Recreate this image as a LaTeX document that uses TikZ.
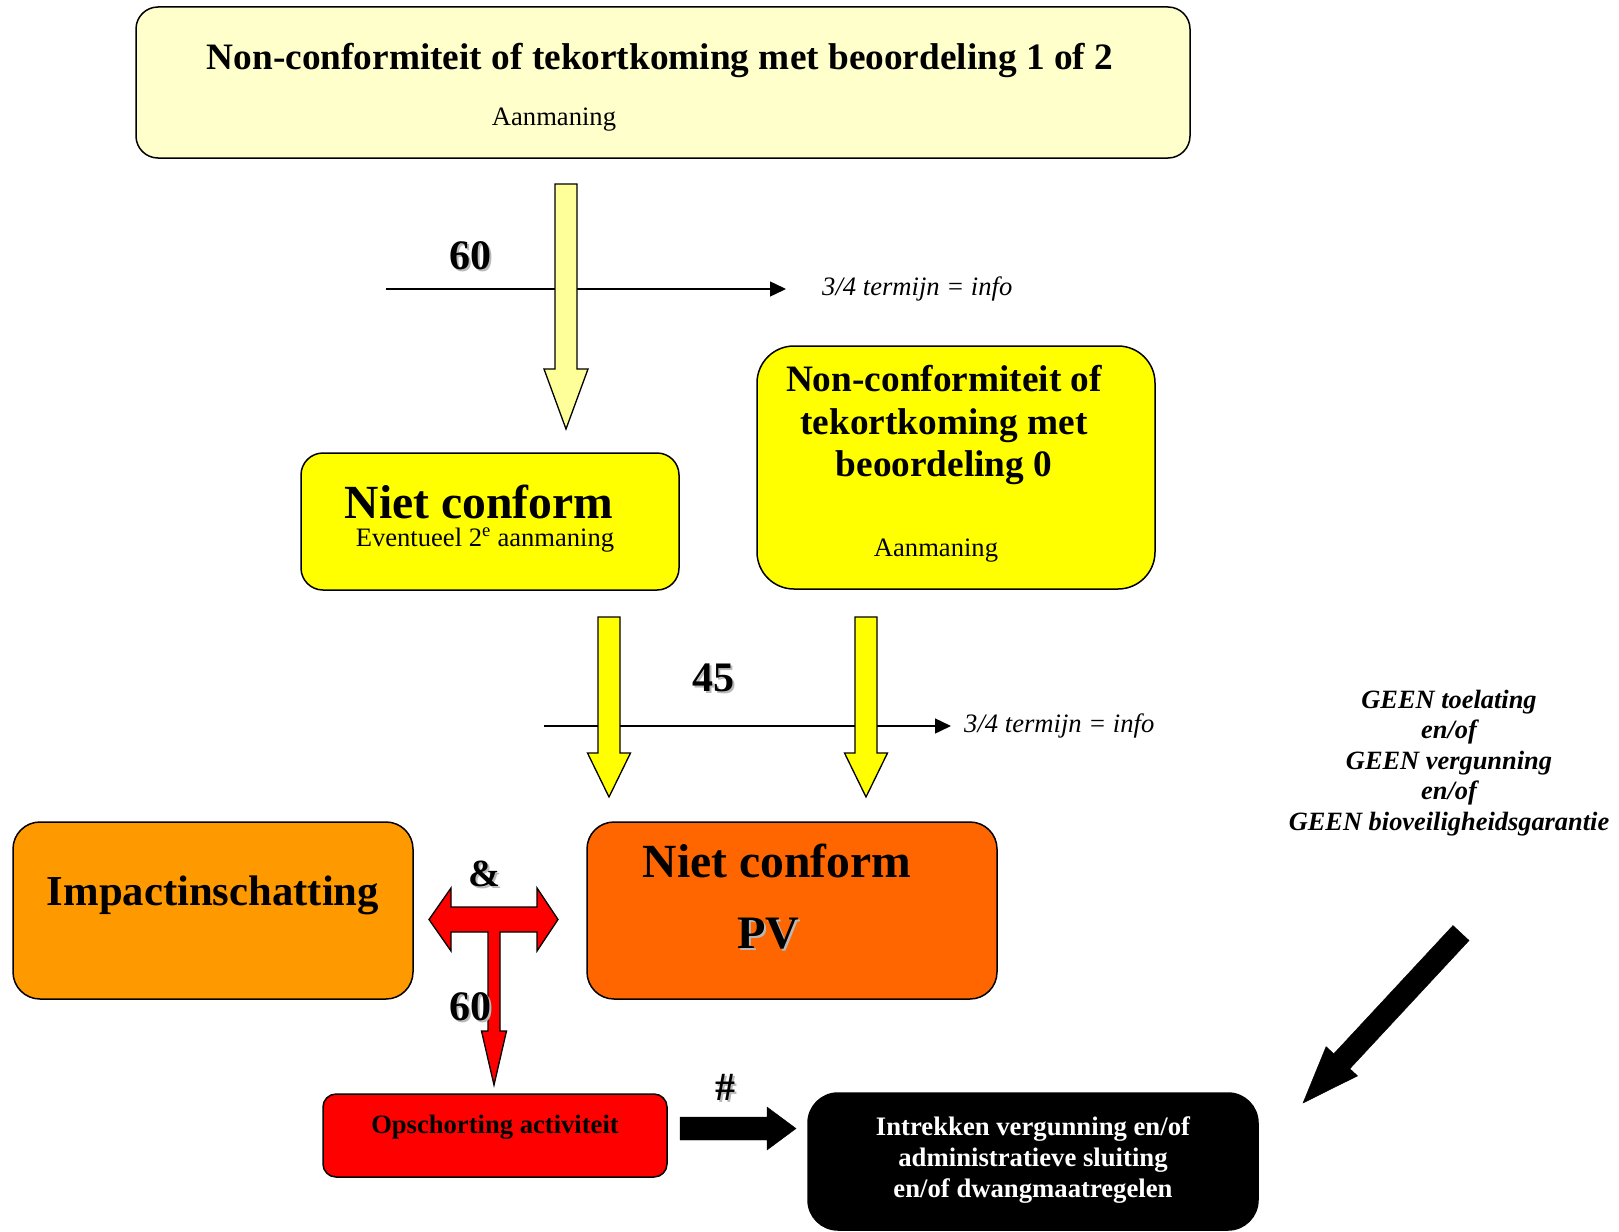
\documentclass[tikz,border=0pt]{standalone}
\usepackage{fontspec}
\setmainfont{Liberation Serif}
\usetikzlibrary{positioning, calc, arrows.meta}

\definecolor{paleyellow}{HTML}{FFFFCC}
\definecolor{arrowyellow}{HTML}{FFFF99}
\definecolor{brightyellow}{HTML}{FFFF00}
\definecolor{amber}{HTML}{FF9900}
\definecolor{pvorange}{HTML}{FF6600}
\definecolor{signalred}{HTML}{FF0000}

% block arrow: [style]{from}{to}{half shaft}{half head}{head length}
\newcommand{\blockarrow}[6][]{%
    \coordinate (ba) at ($(#3)!#6!(#2)$);
    \draw[#1] ($(#2)!#4!90:(#3)$) -- ($(ba)!#4!90:(#3)$) -- ($(ba)!#5!90:(#3)$)
        -- (#3) -- ($(ba)!#5!-90:(#3)$) -- ($(ba)!#4!-90:(#3)$)
        -- ($(#2)!#4!-90:(#3)$) -- cycle;
}
\newcommand{\shd}[1]{\makebox[0pt][l]{\hspace{2pt}\raisebox{-2pt}{\textcolor{gray!55}{#1}}}#1}

\begin{document}
\begin{tikzpicture}[
    x=1pt, y=-1pt,
    box/.style={draw, line width=1.5pt, inner sep=0pt},
    txt/.style={inner sep=0pt, anchor=base, font=\fontsize{26.6}{31}\selectfont},
    head/.style={inner sep=0pt, anchor=base, font=\bfseries\fontsize{37.3}{42.5}\selectfont},
    huge/.style={inner sep=0pt, anchor=base, font=\bfseries\fontsize{47.6}{52}\selectfont},
    num/.style={inner sep=0pt, anchor=base, font=\bfseries\fontsize{42}{46}\selectfont},
    info/.style={inner sep=0pt, anchor=west, font=\itshape\fontsize{26.6}{31}\selectfont},
    arrow/.style={-{Triangle[length=16pt, width=15pt]}, line width=1.4pt},
    blockline/.style={line width=1.3pt, line join=miter}
]
    \useasboundingbox (0,0) rectangle (1619,1231);

    % boxes
    \node[box, rounded corners=22pt, fill=paleyellow, minimum width=1054pt, minimum height=151pt] (top) at (663,82.5) {};
    \node[box, rounded corners=22pt, fill=brightyellow, minimum width=378pt, minimum height=137pt] (nc) at (490,521.5) {};
    \node[box, rounded corners=37pt, fill=brightyellow, minimum width=398pt, minimum height=243pt] (nc0) at (956,467.5) {};
    \node[box, rounded corners=27pt, fill=amber, minimum width=400pt, minimum height=177pt] (impact) at (213,910.5) {};
    \node[box, rounded corners=27pt, fill=pvorange, minimum width=410pt, minimum height=177pt] (pv) at (792,910.5) {};
    \node[box, rounded corners=13pt, fill=signalred, minimum width=344pt, minimum height=83pt] (susp) at (495,1135.5) {};
    \node[box, rounded corners=30pt, fill=black, minimum width=450pt, minimum height=137pt] (revoke) at (1033,1161.5) {};

    % texts
    \node[head] (top-t) at (660,70) {Non-conformiteit of tekortkoming met beoordeling 1 of 2};
    \node[txt] (top-s) at (554,125) {Aanmaning};
    \node[huge] (nc-t) at (479,518) {Niet conform};
    \node[txt] (nc-s) at (485,546) {Eventueel 2\textsuperscript{e} aanmaning};
    \node[head, anchor=center, align=center] (nc0-t) at (944,425) {Non-conformiteit of\\tekortkoming met\\beoordeling 0};
    \node[txt] (nc0-s) at (936,556) {Aanmaning};
    \node[txt, font=\bfseries\fontsize{42.7}{46}\selectfont] (impact-t) at (213,905) {Impactinschatting};
    \node[huge] (pv-t) at (777,877) {Niet conform};
    \node[huge, font=\bfseries\fontsize{46.5}{50}\selectfont] (pv-s) at (768,948) {\shd{PV}};
    \node[txt, font=\bfseries\fontsize{26.6}{31}\selectfont] (susp-t) at (495,1133) {Opschorting activiteit};
    \node[txt, anchor=center, align=center, text=white, font=\bfseries\fontsize{26.7}{31}\selectfont] (revoke-t) at (1033,1160)
        {Intrekken vergunning en/of\\administratieve sluiting\\en/of dwangmaatregelen};
    \node[txt, anchor=center, align=center, font=\bfseries\itshape\fontsize{26.4}{30.5}\selectfont] (geen) at (1449,763)
        {GEEN toelating\\en/of\\GEEN vergunning\\en/of\\GEEN bioveiligheidsgarantie};

    % term lines
    \coordinate (t1a) at (386,289);
    \coordinate (t1b) at (786,289);
    \coordinate (t2a) at (544,726);
    \coordinate (t2b) at (951,726);
    \draw[arrow] (t1a) -- (t1b);
    \draw[arrow] (t2a) -- (t2b);
    \node[info] (info1) at (822,289) {3/4 termijn = info};
    \node[info] (info2) at (964,726) {3/4 termijn = info};
    \node[num] (d60a) at (470,269) {\shd{60}};
    \node[num] (d45) at (713,691) {\shd{45}};

    % block arrows
    \coordinate (y1a) at (566,184);
    \coordinate (y1b) at (566,429);
    \coordinate (y2a) at (609,617);
    \coordinate (y2b) at (609,797);
    \coordinate (y3a) at (866,617);
    \coordinate (y3b) at (866,797);
    \blockarrow[blockline, fill=arrowyellow]{y1a}{y1b}{11pt}{22pt}{60pt}
    \blockarrow[blockline, fill=brightyellow]{y2a}{y2b}{11pt}{21.5pt}{44pt}
    \blockarrow[blockline, fill=brightyellow]{y3a}{y3b}{11pt}{21.5pt}{44pt}

    \coordinate (k1a) at (680,1128.5);
    \coordinate (k1b) at (796,1128.5);
    \blockarrow[fill=black]{k1a}{k1b}{11.5pt}{21.5pt}{29pt}
    \node[num, font=\bfseries\fontsize{40}{44}\selectfont] (hash) at (725,1100) {\shd{\#}};

    \coordinate (k2a) at (1461,933);
    \coordinate (k2b) at (1303,1103);
    \blockarrow[fill=black]{k2a}{k2b}{11pt}{21.5pt}{57pt}

    % red T arrow
    \coordinate (tee) at (494,919.5);
    \draw[blockline, fill=signalred, shift={(tee)}] (-65,0) -- (-43,-31.5) -- (-43,-12.5) -- (43,-12.5) -- (43,-31.5)
        -- (64,0) -- (43,31.5) -- (43,12.5) -- (6,12.5) -- (6,111.5) -- (12.5,111.5) -- (0,165.5)
        -- (-12.5,111.5) -- (-6,111.5) -- (-6,12.5) -- (-43,12.5) -- (-43,31.5) -- cycle;
    \node[num, font=\bfseries\fontsize{38.4}{42}\selectfont] (amp) at (484,886) {\shd{\&}};
    \node[num] (d60b) at (470,1020) {\shd{60}};

\end{tikzpicture}
\end{document}
